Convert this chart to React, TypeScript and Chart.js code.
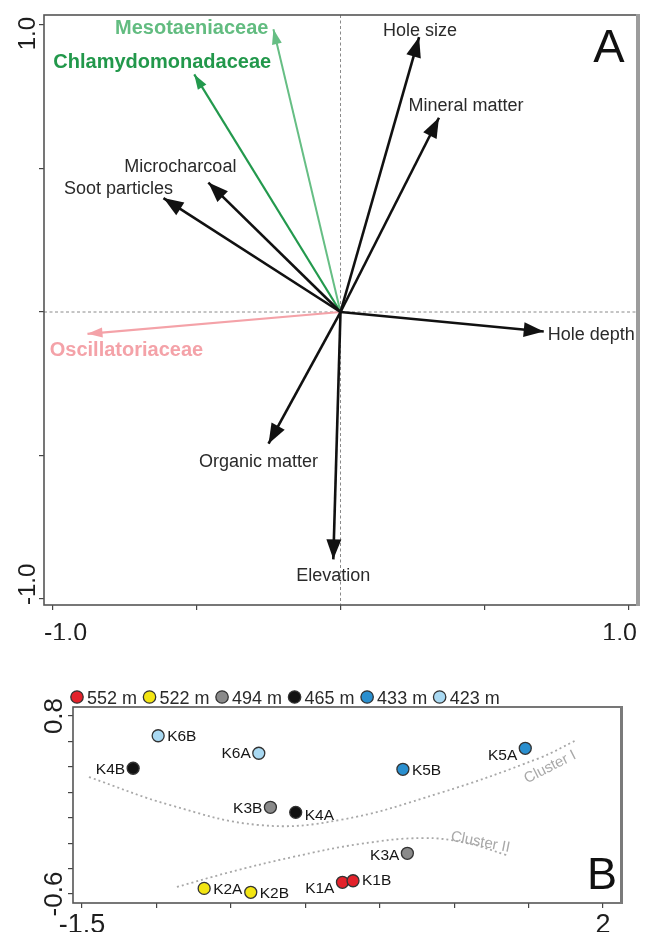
import React, { useEffect, useRef } from "react";
import { Chart, registerables } from "chart.js";
Chart.register(...registerables);

const FONT = '"Liberation Sans", Arial, sans-serif';

// ---------- Panel A : biplot vectors ----------
const vectorNames = [
  "Mesotaeniaceae",
  "Chlamydomonadaceae",
  "Microcharcoal",
  "Soot particles",
  "Hole size",
  "Mineral matter",
  "Hole depth",
  "Elevation",
  "Organic matter",
  "Oscillatoriaceae",
];
const vectorX = [-0.233, -0.508, -0.459, -0.615, 0.273, 0.342, 0.706, -0.025, -0.25, -0.879];
const vectorY = [0.985, 0.828, 0.451, 0.397, 0.958, 0.677, -0.068, -0.862, -0.459, -0.076];
const axisATicks = [-1, -0.5, 0, 0.5, 1];
const axisATickLabels = ["-1.0", "", "", "", "1.0"];

// ---------- Panel B : samples ----------
const elevationLabels = ["552 m", "522 m", "494 m", "465 m", "433 m", "423 m"];
const sampleNames = [
  ["K1A", "K1B"],
  ["K2A", "K2B"],
  ["K3A", "K3B"],
  ["K4A", "K4B"],
  ["K5A", "K5B"],
  ["K6A", "K6B"],
];
const sampleX = [
  [0.25, 0.321],
  [-0.679, -0.366],
  [0.686, -0.234],
  [-0.064, -1.156],
  [1.478, 0.656],
  [-0.312, -0.988],
];
const sampleY = [
  [-0.508, -0.496],
  [-0.556, -0.587],
  [-0.28, 0.082],
  [0.042, 0.389],
  [0.546, 0.381],
  [0.507, 0.645],
];
const clusterIX = [-1.453, -0.909, -0.305, 0.232, 0.903, 1.574, 1.809];
const clusterIY = [0.32, 0.1, -0.058, -0.018, 0.194, 0.47, 0.603];
const clusterIIX = [-0.862, -0.527, -0.084, 0.366, 0.789, 1.084, 1.352];
const clusterIIY = [-0.545, -0.435, -0.309, -0.207, -0.16, -0.199, -0.294];
const clusterNames = ["Cluster I", "Cluster II"];
const clusterLabelX = [1.641, 1.178];
const clusterLabelY = [0.407, -0.183];
const axisBXTicks = [-1.5, -1, -0.5, 0, 0.5, 1, 1.5, 2];
const axisBXTickLabels = ["-1.5", "", "", "", "", "", "", "2"];
const axisBYTicks = [-0.6, -0.4, -0.2, 0, 0.2, 0.4, 0.6, 0.8];
const axisBYTickLabels = ["-0.6", "", "", "", "", "", "", "0.8"];

// ---------- styles ----------
const vectorKind = ["meso", "chlamy", "env", "env", "env", "env", "env", "env", "env", "osc"];
const kindStyle: Record<string, any> = {
  meso: { color: "#66be84", label: "#62bc80", lw: 2, head: 15, hw: 5, font: "bold 20px" },
  chlamy: { color: "#23994d", label: "#22984b", lw: 2.2, head: 15, hw: 5, font: "bold 20px" },
  osc: { color: "#f4a2a8", label: "#f4a2a8", lw: 2.2, head: 15, hw: 5, font: "bold 20px" },
  env: { color: "#111111", label: "#2a2a2a", lw: 2.6, head: 20, hw: 7.5, font: "18px" },
};
// label placement relative to arrow tip: [dx, dy, align]
const vectorLabelPlace: [number, number, CanvasTextAlign][] = [
  [-5, -3, "right"],
  [-32, -14, "center"],
  [-28, -17, "center"],
  [-45, -11, "center"],
  [1, -8, "center"],
  [27, -13, "center"],
  [4, 2, "left"],
  [0, 15, "center"],
  [-10, 17, "center"],
  [39, 15, "center"],
];
const elevationColors = ["#e3222b", "#f3e512", "#8a8a8a", "#111111", "#2a8fcf", "#a9d9f2"];
const sampleLabelSide = [
  ["l", "r"],
  ["r", "r"],
  ["l", "l"],
  ["r", "l"],
  ["l", "r"],
  ["l", "r"],
];
const sampleLabelDy = [
  [5, -1],
  [0, 0],
  [1, 0],
  [2, 0],
  [6, 0],
  [-1, 0],
];
const clusterLabelAngle = [-27, 11];

function txt(ctx: CanvasRenderingContext2D, s: string, x: number, cy: number, font: string, size: number, align: CanvasTextAlign, color: string) {
  ctx.save();
  ctx.font = `${font} ${FONT}`;
  ctx.fillStyle = color;
  ctx.textAlign = align;
  ctx.textBaseline = "alphabetic";
  ctx.fillText(s, x, cy + 0.36 * size);
  ctx.restore();
}
function rtxt(ctx: CanvasRenderingContext2D, s: string, cx: number, y: number, size: number, align: CanvasTextAlign, color: string, angle = -Math.PI / 2) {
  ctx.save();
  ctx.translate(cx, y);
  ctx.rotate(angle);
  ctx.font = `${size}px ${FONT}`;
  ctx.fillStyle = color;
  ctx.textAlign = align;
  ctx.textBaseline = "alphabetic";
  ctx.fillText(s, 0, 0.36 * size);
  ctx.restore();
}

function axisOpts(min: number, max: number, ticks: number[], fitKey: "width" | "height", fitVal: number) {
  return {
    type: "linear",
    min,
    max,
    afterBuildTicks: (s: any) => {
      s.ticks = ticks.map((v) => ({ value: v }));
    },
    afterFit: (s: any) => {
      s[fitKey] = fitVal;
    },
    ticks: { display: false },
    grid: { display: true, drawOnChartArea: false, drawTicks: true, tickLength: 5, color: "#444", lineWidth: 1.2 },
    border: { display: false },
  };
}

function makeChartA(canvas: HTMLCanvasElement) {
  const datasets = vectorNames.map((n, i) => {
    const st = kindStyle[vectorKind[i]];
    return {
      label: n,
      data: [
        { x: 0, y: 0 },
        { x: vectorX[i], y: vectorY[i] },
      ],
      showLine: true,
      borderColor: st.color,
      borderWidth: st.lw,
      pointRadius: 0,
      order: vectorKind[i] === "env" ? 0 : 1,
    };
  });
  const plugin = {
    id: "biplotA",
    beforeDatasetsDraw(chart: any) {
      const { ctx, chartArea: a, scales } = chart;
      const x0 = scales.x.getPixelForValue(0);
      const y0 = scales.y.getPixelForValue(0);
      ctx.save();
      ctx.strokeStyle = "#8a8a8a";
      ctx.lineWidth = 1;
      ctx.setLineDash([3, 2.5]);
      ctx.beginPath();
      ctx.moveTo(x0, a.top);
      ctx.lineTo(x0, a.bottom);
      ctx.moveTo(a.left, y0);
      ctx.lineTo(a.right, y0);
      ctx.stroke();
      ctx.restore();
    },
    afterDatasetsDraw(chart: any) {
      const { ctx } = chart;
      vectorNames.forEach((n, i) => {
        const st = kindStyle[vectorKind[i]];
        const meta = chart.getDatasetMeta(i);
        const p0 = meta.data[0];
        const p1 = meta.data[1];
        const ang = Math.atan2(p1.y - p0.y, p1.x - p0.x);
        const bx = p1.x - st.head * Math.cos(ang);
        const by = p1.y - st.head * Math.sin(ang);
        ctx.save();
        ctx.fillStyle = st.color;
        ctx.beginPath();
        ctx.moveTo(p1.x, p1.y);
        ctx.lineTo(bx + st.hw * Math.sin(ang), by - st.hw * Math.cos(ang));
        ctx.lineTo(bx - st.hw * Math.sin(ang), by + st.hw * Math.cos(ang));
        ctx.closePath();
        ctx.fill();
        ctx.restore();
        const [dx, dy, al] = vectorLabelPlace[i];
        const size = parseFloat(st.font.replace("bold ", ""));
        txt(ctx, n, p1.x + dx, p1.y + dy, st.font, size, al, st.label);
      });
    },
    afterDraw(chart: any) {
      const { ctx, chartArea: a } = chart;
      ctx.save();
      ctx.strokeStyle = "#555";
      ctx.lineWidth = 1.6;
      ctx.strokeRect(a.left, a.top, a.right - a.left, a.bottom - a.top);
      ctx.fillStyle = "#9c9c9c";
      ctx.fillRect(a.right - 1, a.top - 1, 4, a.bottom - a.top + 2);
      ctx.restore();
      axisATicks.forEach((v, i) => {
        const lab = axisATickLabels[i];
        if (!lab) return;
        const first = i === 0;
        txt(ctx, lab, first ? a.left : a.right, a.bottom + 27, "25px", 25, first ? "left" : "right", "#1e1e1e");
        rtxt(ctx, lab, a.left - 18, first ? a.bottom : a.top + 2, 24, first ? "left" : "right", "#1e1e1e");
      });
      txt(ctx, "A", a.right - 28, a.top + 30, "47px", 47, "center", "#111");
    },
  };
  return new Chart(canvas, {
    type: "scatter",
    data: { datasets } as any,
    options: {
      responsive: false,
      devicePixelRatio: 1,
      animation: false,
      events: [],
      layout: { padding: { top: 15, right: 9, bottom: 5, left: 0 } },
      plugins: { legend: { display: false }, tooltip: { enabled: false } },
      scales: {
        x: axisOpts(-1.03, 1.03, axisATicks, "height", 30),
        y: axisOpts(-1.021, 1.035, axisATicks, "width", 44),
      } as any,
    },
    plugins: [plugin],
  } as any);
}

function makeChartB(canvas: HTMLCanvasElement) {
  const pointSets = elevationLabels.map((lab, g) => ({
    label: lab,
    data: sampleX[g].map((x, k) => ({ x, y: sampleY[g][k] })),
    pointRadius: 6,
    pointBorderWidth: 1.3,
    pointBorderColor: "#333",
    pointBackgroundColor: elevationColors[g],
    showLine: false,
  }));
  const clusterSets = [
    { xs: clusterIX, ys: clusterIY },
    { xs: clusterIIX, ys: clusterIIY },
  ].map((c, i) => ({
    label: clusterNames[i],
    data: c.xs.map((x, k) => ({ x, y: c.ys[k] })),
    showLine: true,
    tension: 0.4,
    borderColor: "#a8a8a8",
    borderWidth: 1.8,
    borderDash: [2, 3],
    pointRadius: 0,
  }));
  const plugin = {
    id: "samplesB",
    afterDatasetsDraw(chart: any) {
      const { ctx, scales } = chart;
      elevationLabels.forEach((_, g) => {
        const meta = chart.getDatasetMeta(g);
        sampleNames[g].forEach((name, k) => {
          const p = meta.data[k];
          const side = sampleLabelSide[g][k];
          txt(ctx, name, side === "r" ? p.x + 9 : p.x - 8, p.y + sampleLabelDy[g][k], "15.5px", 15.5, side === "r" ? "left" : "right", "#161616");
        });
      });
      clusterNames.forEach((n, i) => {
        const px = scales.x.getPixelForValue(clusterLabelX[i]);
        const py = scales.y.getPixelForValue(clusterLabelY[i]);
        rtxt(ctx, n, px, py, 15, "center", "#a8a8a8", (clusterLabelAngle[i] * Math.PI) / 180);
      });
    },
    afterDraw(chart: any) {
      const { ctx, chartArea: a, scales } = chart;
      ctx.save();
      ctx.strokeStyle = "#555";
      ctx.lineWidth = 1.6;
      ctx.strokeRect(a.left, a.top, a.right - a.left, a.bottom - a.top);
      ctx.fillStyle = "#7a7a7a";
      ctx.fillRect(a.right - 1, a.top - 1, 3, a.bottom - a.top + 2);
      ctx.restore();
      axisBXTicks.forEach((v, i) => {
        const lab = axisBXTickLabels[i];
        if (!lab) return;
        txt(ctx, lab, scales.x.getPixelForValue(v), a.bottom + 20, "27px", 27, "center", "#1e1e1e");
      });
      axisBYTicks.forEach((v, i) => {
        const lab = axisBYTickLabels[i];
        if (!lab) return;
        rtxt(ctx, lab, a.left - 20, scales.y.getPixelForValue(v), 26, "center", "#1e1e1e");
      });
      // legend
      let x = a.left + 4;
      const ly = a.top - 10;
      ctx.save();
      ctx.font = `18px ${FONT}`;
      elevationLabels.forEach((lab, g) => {
        ctx.beginPath();
        ctx.arc(x, ly, 6.2, 0, Math.PI * 2);
        ctx.fillStyle = elevationColors[g];
        ctx.fill();
        ctx.lineWidth = 1.3;
        ctx.strokeStyle = "#333";
        ctx.stroke();
        txt(ctx, lab, x + 10, ly + 1, "18px", 18, "left", "#2a2a2a");
        x += 10 + ctx.measureText(lab).width + 12.5;
      });
      ctx.restore();
      txt(ctx, "B", a.right - 19, a.bottom - 30, "45px", 45, "center", "#111");
    },
  };
  return new Chart(canvas, {
    type: "scatter",
    data: { datasets: [...pointSets, ...clusterSets] } as any,
    options: {
      responsive: false,
      devicePixelRatio: 1,
      animation: false,
      events: [],
      layout: { padding: { top: 67, right: 25, bottom: 7, left: 0 } },
      plugins: { legend: { display: false }, tooltip: { enabled: false } },
      scales: {
        x: axisOpts(-1.56, 2.121, axisBXTicks, "height", 22),
        y: axisOpts(-0.671, 0.871, axisBYTicks, "width", 73),
      } as any,
    },
    plugins: [plugin],
  } as any);
}

export default function App() {
  const refA = useRef<HTMLCanvasElement>(null);
  const refB = useRef<HTMLCanvasElement>(null);
  useEffect(() => {
    const a = makeChartA(refA.current!);
    const b = makeChartB(refB.current!);
    return () => {
      a.destroy();
      b.destroy();
    };
  }, []);
  return (
    <div style={{ position: "absolute", left: 0, top: 0, width: 646, height: 932, background: "#fff" }}>
      <canvas ref={refA} width={646} height={640} style={{ display: "block", width: 646, height: 640 }} />
      <canvas ref={refB} width={646} height={292} style={{ display: "block", width: 646, height: 292 }} />
    </div>
  );
}
